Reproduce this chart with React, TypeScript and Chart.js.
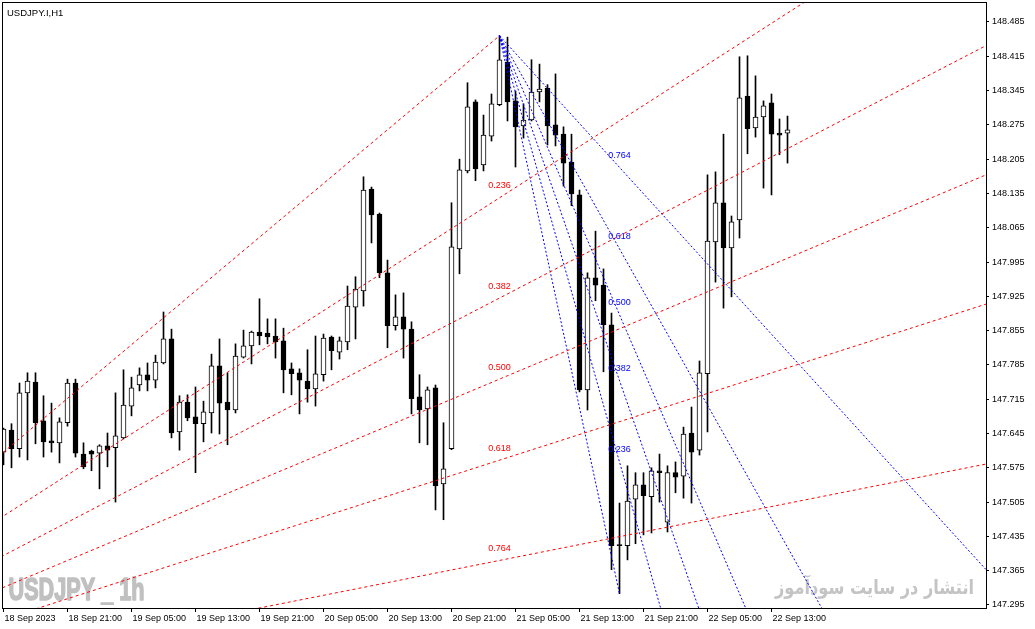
import React, { useEffect, useRef } from "react";
import { Chart, registerables } from "chart.js";

Chart.register(...registerables);

// ---- Data (USDJPY.I, H1, bar 0 = 18 Sep 2023 13:00) ----
const OPEN = [
  147.607, 147.652, 147.614, 147.728, 147.750, 147.671, 147.630, 147.626, 147.667, 147.748,
  147.603, 147.609, 147.605, 147.620, 147.616, 147.636, 147.701, 147.744, 147.765, 147.754,
  147.789, 147.838, 147.648, 147.709, 147.679, 147.665, 147.687, 147.783, 147.709, 147.693,
  147.801, 147.824, 147.852, 147.850, 147.844, 147.834, 147.777, 147.769, 147.752, 147.736,
  147.765, 147.842, 147.811, 147.832, 147.903, 147.936, 148.144, 148.093, 147.973, 147.865,
  147.883, 147.858, 147.720, 147.695, 147.738, 147.542, 147.614, 148.022, 148.181, 148.322,
  148.193, 148.252, 148.316, 148.403, 148.324, 148.273, 148.285, 148.342, 148.350, 148.275,
  148.256, 148.199, 148.132, 147.734, 147.963, 147.948, 147.867, 147.418, 147.416, 147.511,
  147.540, 147.516, 147.569, 147.464, 147.565, 147.558, 147.646, 147.611, 147.767, 148.036,
  148.116, 148.024, 148.081, 148.334, 148.269, 148.291, 148.320, 148.258, 148.258,
];
const HIGH = [
  147.656, 147.665, 147.748, 147.769, 147.769, 147.722, 147.707, 147.677, 147.756, 147.756,
  147.626, 147.611, 147.622, 147.646, 147.728, 147.775, 147.760, 147.779, 147.789, 147.805,
  147.893, 147.858, 147.722, 147.724, 147.740, 147.711, 147.807, 147.838, 147.769, 147.828,
  147.856, 147.854, 147.920, 147.879, 147.879, 147.860, 147.789, 147.777, 147.816, 147.844,
  147.848, 147.844, 147.842, 147.946, 147.965, 148.169, 148.148, 148.095, 147.999, 147.928,
  147.932, 147.873, 147.765, 147.740, 147.744, 147.667, 148.116, 148.205, 148.361, 148.326,
  148.295, 148.338, 148.457, 148.454, 148.344, 148.318, 148.408, 148.399, 148.357, 148.379,
  148.271, 148.256, 148.142, 147.973, 148.058, 147.981, 147.891, 147.503, 147.579, 147.565,
  147.565, 147.575, 147.603, 147.579, 147.587, 147.658, 147.699, 147.793, 148.173, 148.179,
  148.256, 148.089, 148.414, 148.416, 148.375, 148.324, 148.338, 148.287, 148.293,
];
const LOW = [
  147.581, 147.575, 147.597, 147.591, 147.624, 147.597, 147.607, 147.585, 147.660, 147.597,
  147.573, 147.569, 147.532, 147.577, 147.505, 147.634, 147.681, 147.732, 147.732, 147.738,
  147.787, 147.636, 147.611, 147.671, 147.565, 147.628, 147.646, 147.644, 147.622, 147.687,
  147.799, 147.787, 147.826, 147.828, 147.799, 147.728, 147.724, 147.685, 147.709, 147.701,
  147.752, 147.775, 147.797, 147.816, 147.838, 147.905, 148.034, 147.963, 147.820, 147.856,
  147.799, 147.685, 147.626, 147.622, 147.489, 147.469, 147.612, 147.971, 148.177, 148.161,
  148.181, 148.242, 148.314, 148.283, 148.189, 148.248, 148.283, 148.322, 148.234, 148.232,
  148.150, 148.110, 147.730, 147.693, 147.916, 147.771, 147.367, 147.318, 147.387, 147.420,
  147.438, 147.442, 147.505, 147.444, 147.524, 147.513, 147.503, 147.601, 147.648, 147.954,
  147.901, 147.924, 148.044, 148.216, 148.250, 148.146, 148.132, 148.214, 148.197,
];
const CLOSE = [
  147.654, 147.614, 147.728, 147.752, 147.667, 147.628, 147.626, 147.669, 147.748, 147.605,
  147.577, 147.603, 147.620, 147.611, 147.640, 147.703, 147.738, 147.765, 147.754, 147.791,
  147.838, 147.646, 147.709, 147.677, 147.665, 147.689, 147.783, 147.707, 147.693, 147.803,
  147.824, 147.852, 147.844, 147.842, 147.832, 147.775, 147.767, 147.754, 147.736, 147.767,
  147.840, 147.814, 147.834, 147.905, 147.940, 148.142, 148.091, 147.973, 147.865, 147.883,
  147.858, 147.716, 147.693, 147.734, 147.538, 147.573, 148.026, 148.183, 148.312, 148.185,
  148.254, 148.318, 148.408, 148.322, 148.271, 148.285, 148.342, 148.348, 148.273, 148.254,
  148.197, 148.134, 147.734, 147.963, 147.948, 147.867, 147.416, 147.416, 147.507, 147.540,
  147.518, 147.569, 147.565, 147.565, 147.556, 147.644, 147.607, 147.769, 148.038, 148.116,
  148.024, 148.077, 148.330, 148.267, 148.291, 148.314, 148.256, 148.254, 148.265,
];

const X_TICK_INDEX = [0, 8, 16, 24, 32, 40, 48, 56, 64, 72, 80, 88, 96];
const X_TICK_LABELS = [
  "18 Sep 2023", "18 Sep 21:00", "19 Sep 05:00", "19 Sep 13:00", "19 Sep 21:00",
  "20 Sep 05:00", "20 Sep 13:00", "20 Sep 21:00", "21 Sep 05:00", "21 Sep 13:00",
  "21 Sep 21:00", "22 Sep 05:00", "22 Sep 13:00",
];
const Y_TICKS = [
  148.485, 148.415, 148.345, 148.275, 148.205, 148.135, 148.065, 147.995, 147.925,
  147.855, 147.785, 147.715, 147.645, 147.575, 147.505, 147.435, 147.365, 147.295,
];

const FIB_LEVELS = [0.236, 0.382, 0.5, 0.618, 0.764];
// fan anchors: [barIndex, price]
const RED_FAN_FROM = [-40.25, 147.055];
const RED_FAN_TO = [62, 148.457];
const BLUE_FAN_FROM = [62, 148.457];
const BLUE_FAN_TO = [77, 147.318];

const TITLE = "USDJPY.I,H1";
const WATERMARK_LEFT = "USDJPY _ 1h";
const WATERMARK_RIGHT = "انتشار در سایت سودآموز";

const X_MIN = -0.1875;
const X_MAX = 122.8125;
const Y_MIN = 147.2888;
const Y_MAX = 148.5258;
const RAY_END = 140;

const RED = "#ff0000";
const BLUE = "#0000ff";

function levelPrice(from: number[], to: number[], level: number) {
  return to[1] + level * (from[1] - to[1]);
}
function ray(from: number[], to: number[], level: number) {
  const qy = levelPrice(from, to, level);
  const slope = (qy - from[1]) / (to[0] - from[0]);
  return [
    { x: from[0], y: from[1] },
    { x: RAY_END, y: from[1] + slope * (RAY_END - from[0]) },
  ];
}

function lineDs(data: any[], color: string, dash: number[]) {
  return {
    type: "line" as const,
    data,
    borderColor: color,
    borderWidth: 1,
    borderDash: dash,
    pointRadius: 0,
    fill: false,
    order: -1,
  };
}

const framePlugin = {
  id: "mt4frame",
  beforeDatasetsDraw(chart: any) {
    const ctx = chart.ctx;
    const a = chart.chartArea;
    ctx.save();
    // left watermark
    ctx.fillStyle = "#c0c0c0";
    ctx.strokeStyle = "#c0c0c0";
    ctx.lineWidth = 1.6;
    ctx.lineJoin = "round";
    ctx.font = 'bold 32px "Liberation Sans", sans-serif';
    ctx.textBaseline = "alphabetic";
    ctx.textAlign = "left";
    const w1 = ctx.measureText(WATERMARK_LEFT).width;
    ctx.translate(a.left + 6.5, a.bottom - 8);
    ctx.scale(136 / w1, 1);
    ctx.fillText(WATERMARK_LEFT, 0, 0);
    ctx.strokeText(WATERMARK_LEFT, 0, 0);
    ctx.restore();

    ctx.save();
    ctx.fillStyle = "#c4c4c4";
    ctx.font = 'bold 20px "DejaVu Sans", sans-serif';
    ctx.textBaseline = "alphabetic";
    ctx.direction = "rtl";
    ctx.textAlign = "left";
    const w2 = ctx.measureText(WATERMARK_RIGHT).width;
    ctx.translate(974 - 199, a.bottom - 14);
    ctx.scale(199 / w2, 1);
    ctx.fillText(WATERMARK_RIGHT, 0, 0);
    ctx.restore();
  },
  afterDraw(chart: any) {
    const ctx = chart.ctx;
    const a = chart.chartArea;
    const xs = chart.scales.x;
    const ys = chart.scales.y;
    ctx.save();
    ctx.strokeStyle = "#000";
    ctx.lineWidth = 1;
    ctx.strokeRect(a.left + 0.5, a.top + 0.5, a.right - a.left, a.bottom - a.top);

    ctx.fillStyle = "#000";
    ctx.font = '9.5px "Liberation Sans", sans-serif';
    ctx.textBaseline = "middle";
    ctx.textAlign = "left";
    ctx.fillText(TITLE, 7, 13);

    ctx.font = '9px "Liberation Sans", sans-serif';
    ctx.textAlign = "center";
    const fans = [
      { from: RED_FAN_FROM, to: RED_FAN_TO, color: RED },
      { from: BLUE_FAN_FROM, to: BLUE_FAN_TO, color: BLUE },
    ];
    for (const f of fans) {
      ctx.fillStyle = f.color;
      const px = xs.getPixelForValue(f.to[0]);
      for (const lv of FIB_LEVELS) {
        const py = ys.getPixelForValue(levelPrice(f.from, f.to, lv));
        ctx.fillText(lv.toFixed(3), px, py - 12);
      }
    }
    ctx.restore();
  },
};

export default function App() {
  const ref = useRef<HTMLCanvasElement | null>(null);

  useEffect(() => {
    document.body.style.margin = "0";
    if (!ref.current) return;

    const bodies = OPEN.map((o, i) => ({ x: i, y: [o, CLOSE[i]] }));
    const wicks = LOW.map((l, i) => ({ x: i, y: [l, HIGH[i]] }));
    const bodyColors = OPEN.map((o, i) => (CLOSE[i] >= o ? "#ffffff" : "#000000"));

    const datasets: any[] = [];
    // red fan
    datasets.push(lineDs([{ x: RED_FAN_FROM[0], y: RED_FAN_FROM[1] }, { x: RED_FAN_TO[0], y: RED_FAN_TO[1] }], RED, [3, 3]));
    for (const lv of FIB_LEVELS) datasets.push(lineDs(ray(RED_FAN_FROM, RED_FAN_TO, lv), RED, [3, 3]));
    // blue fan
    datasets.push(lineDs([{ x: BLUE_FAN_FROM[0], y: BLUE_FAN_FROM[1] }, { x: BLUE_FAN_TO[0], y: BLUE_FAN_TO[1] }], BLUE, [2, 2]));
    for (const lv of FIB_LEVELS) datasets.push(lineDs(ray(BLUE_FAN_FROM, BLUE_FAN_TO, lv), BLUE, [2, 2]));

    datasets.push({
      type: "bar",
      data: bodies,
      backgroundColor: bodyColors,
      borderColor: "#000000",
      borderWidth: 1,
      borderSkipped: false,
      barThickness: 5,
      minBarLength: 1,
      grouped: false,
      order: 0,
    });
    datasets.push({
      type: "bar",
      data: wicks,
      backgroundColor: "#000000",
      borderWidth: 0,
      barThickness: 1,
      grouped: false,
      order: 1,
    });

    const chart = new Chart(ref.current, {
      type: "bar",
      data: { datasets },
      options: {
        animation: false,
        responsive: false,
        layout: { padding: { left: 2, top: 2, right: 0, bottom: 0 } },
        plugins: { legend: { display: false }, tooltip: { enabled: false } },
        scales: {
          x: {
            type: "linear",
            min: X_MIN,
            max: X_MAX,
            offset: false,
            border: { display: false },
            grid: { display: true, drawOnChartArea: false, drawTicks: true, tickLength: 4, color: "#000", offset: false },
            ticks: {
              autoSkip: false,
              maxRotation: 0,
              align: "start",
              labelOffset: 1,
              padding: 1,
              color: "#000",
              font: { family: '"Liberation Sans", sans-serif', size: 9 },
              callback: (_v: any, i: number) => X_TICK_LABELS[i],
            },
            afterBuildTicks: (s: any) => {
              s.ticks = X_TICK_INDEX.map((v) => ({ value: v }));
            },
            afterFit: (s: any) => {
              s.height = 21;
              s.paddingLeft = 0;
              s.paddingRight = 0;
            },
          } as any,
          y: {
            type: "linear",
            position: "right",
            min: Y_MIN,
            max: Y_MAX,
            border: { display: false },
            grid: { display: true, drawOnChartArea: false, drawTicks: true, tickLength: 3, color: "#000" },
            ticks: {
              autoSkip: false,
              padding: 3,
              color: "#000",
              font: { family: '"Liberation Sans", sans-serif', size: 9 },
              callback: (v: any) => Number(v).toFixed(3),
            },
            afterBuildTicks: (s: any) => {
              s.ticks = Y_TICKS.map((v) => ({ value: v }));
            },
            afterFit: (s: any) => {
              s.width = 49;
              s.paddingTop = 0;
              s.paddingBottom = 0;
            },
          } as any,
        },
      },
      plugins: [framePlugin],
    });
    return () => chart.destroy();
  }, []);

  return (
    <div style={{ position: "absolute", left: 0, top: 0, width: 1035, height: 629, background: "#fff" }}>
      <canvas ref={ref} width={1035} height={629} style={{ display: "block", width: 1035, height: 629 }} />
    </div>
  );
}
